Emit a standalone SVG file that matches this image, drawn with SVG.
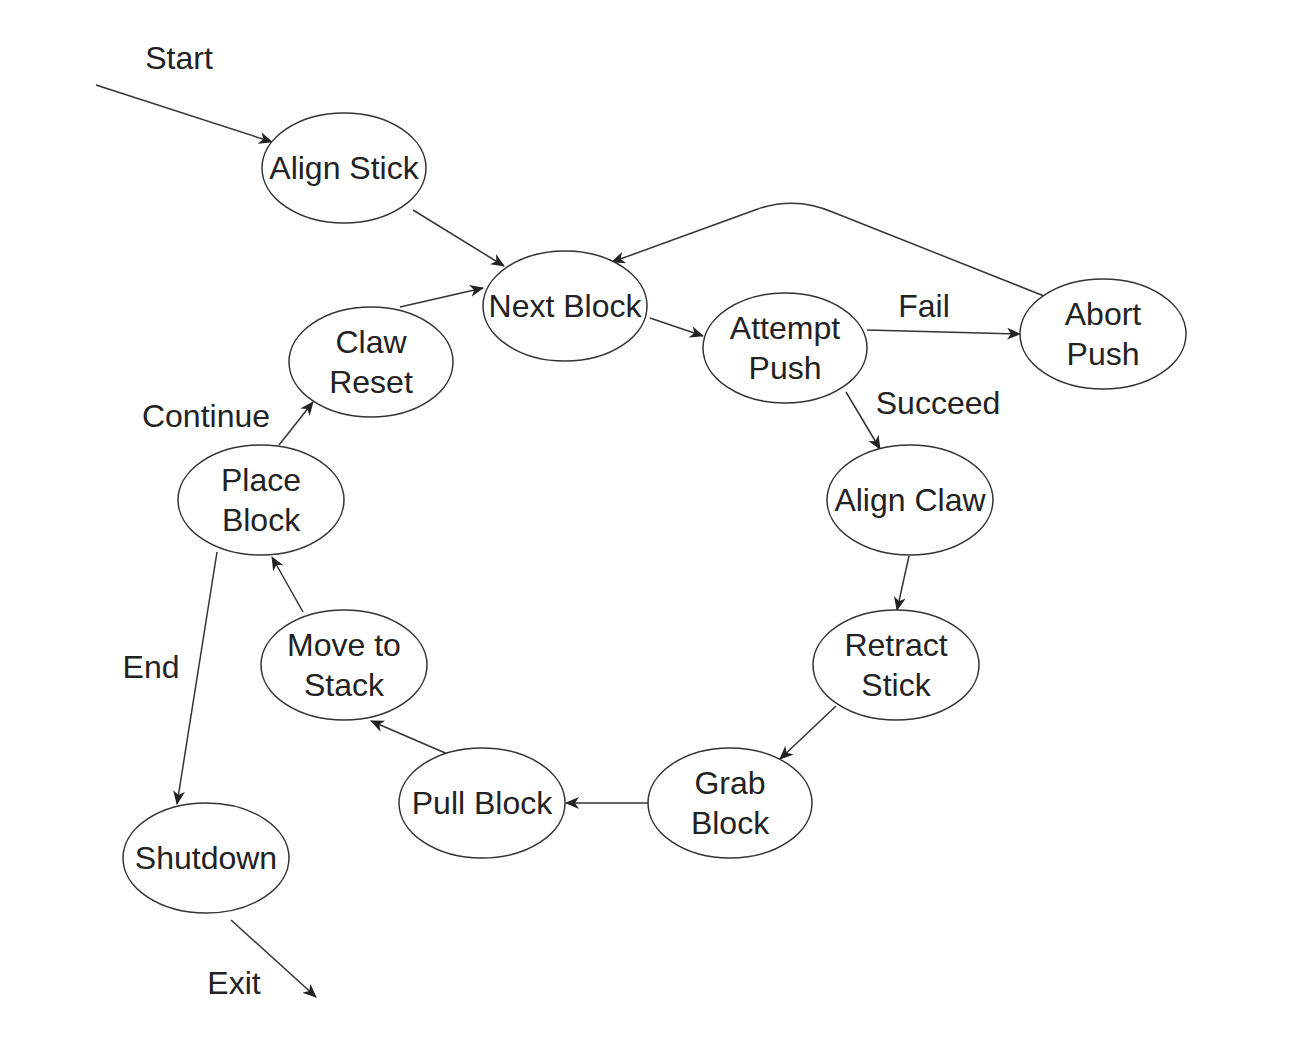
<svg xmlns="http://www.w3.org/2000/svg" width="1292" height="1064" viewBox="0 0 1292 1064">
<defs>
<marker id="arr" markerUnits="userSpaceOnUse" markerWidth="14" markerHeight="12" viewBox="0 0 14 12" refX="13" refY="6" orient="auto">
<path d="M0,0 L14,6 L0,12 L4,6 z" fill="#222"/>
</marker>
<style>
.n ellipse{fill:#fff;stroke:#333;stroke-width:1.5}
text{font-family:"Liberation Sans",Arial,sans-serif;font-size:32px;fill:#222;text-anchor:middle}
.c path,.c line{fill:none;stroke:#333;stroke-width:1.5;marker-end:url(#arr)}
</style>
</defs>
<rect width="1292" height="1064" fill="#fff"/>
<g class="c" id="connectors">
<line x1="96" y1="85" x2="272" y2="142"/>
<line x1="413" y1="210" x2="504" y2="266"/>
<line x1="400" y1="307" x2="483" y2="288"/>
<path d="M1044,296 L835,213 Q795,195 755,210 L612,262"/>
<line x1="650" y1="318" x2="703" y2="336"/>
<line x1="867" y1="330" x2="1020" y2="334"/>
<line x1="846" y1="392" x2="880" y2="449"/>
<line x1="909" y1="556" x2="897" y2="610"/>
<line x1="836" y1="706" x2="780" y2="759"/>
<line x1="648" y1="803" x2="566" y2="803"/>
<line x1="450" y1="755" x2="371" y2="721"/>
<line x1="303" y1="612" x2="272" y2="557"/>
<line x1="279" y1="445" x2="313" y2="402"/>
<line x1="217" y1="552" x2="177" y2="804"/>
<line x1="231" y1="920" x2="316" y2="997"/>
</g>
<g id="labels">
<text x="179" y="69">Start</text>
<text x="924" y="317">Fail</text>
<text x="938" y="414">Succeed</text>
<text x="206" y="427">Continue</text>
<text x="151" y="678">End</text>
<text x="234" y="994">Exit</text>
</g>
<g class="n" id="align-stick"><ellipse cx="344" cy="168" rx="82" ry="55"/><text x="344" y="179">Align Stick</text></g>
<g class="n" id="next-block"><ellipse cx="565" cy="306" rx="82" ry="55"/><text x="565" y="317">Next Block</text></g>
<g class="n" id="attempt-push"><ellipse cx="785" cy="348" rx="82" ry="55"/><text x="785" y="339">Attempt</text><text x="785" y="379">Push</text></g>
<g class="n" id="abort-push"><ellipse cx="1103" cy="334" rx="83" ry="55"/><text x="1103" y="325">Abort</text><text x="1103" y="365">Push</text></g>
<g class="n" id="claw-reset"><ellipse cx="371" cy="362" rx="82" ry="55"/><text x="371" y="353">Claw</text><text x="371" y="393">Reset</text></g>
<g class="n" id="place-block"><ellipse cx="261" cy="500" rx="83" ry="55"/><text x="261" y="491">Place</text><text x="261" y="531">Block</text></g>
<g class="n" id="align-claw"><ellipse cx="910" cy="500" rx="83" ry="55"/><text x="910" y="511">Align Claw</text></g>
<g class="n" id="retract-stick"><ellipse cx="896" cy="665" rx="83" ry="55"/><text x="896" y="656">Retract</text><text x="896" y="696">Stick</text></g>
<g class="n" id="move-to-stack"><ellipse cx="344" cy="665" rx="83" ry="55"/><text x="344" y="656">Move to</text><text x="344" y="696">Stack</text></g>
<g class="n" id="grab-block"><ellipse cx="730" cy="803" rx="82" ry="55"/><text x="730" y="794">Grab</text><text x="730" y="834">Block</text></g>
<g class="n" id="pull-block"><ellipse cx="482" cy="803" rx="83" ry="55"/><text x="482" y="814">Pull Block</text></g>
<g class="n" id="shutdown"><ellipse cx="206" cy="858" rx="83" ry="55"/><text x="206" y="869">Shutdown</text></g>
</svg>
